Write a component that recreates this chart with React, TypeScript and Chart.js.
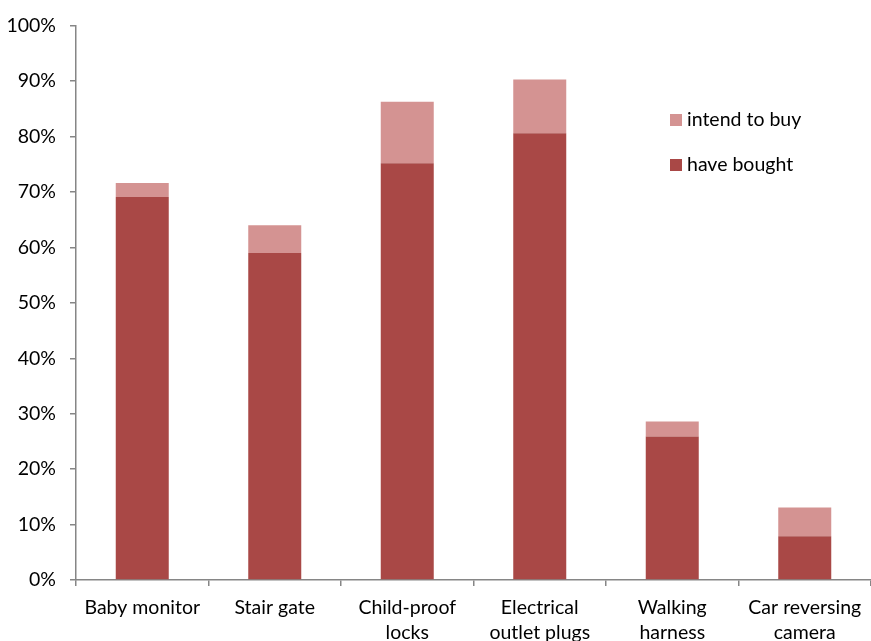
import React, { useEffect, useRef } from "react";
import { Chart, registerables } from "chart.js";

Chart.register(...registerables);

const categories: (string | string[])[] = [
  "Baby monitor",
  "Stair gate",
  ["Child-proof", "locks"],
  ["Electrical", "outlet plugs"],
  ["Walking", "harness"],
  ["Car reversing", "camera"],
];
const haveBought = [69.1, 59.0, 75.2, 80.6, 25.9, 7.9];
const intendToBuy = [2.5, 5.0, 11.1, 9.7, 2.7, 5.2];
const yTicks = [0, 10, 20, 30, 40, 50, 60, 70, 80, 90, 100];

const DARK = "#A94846";
const LIGHT = "#D49392";
const FONT = "Lato, 'Open Sans', sans-serif";
const FSIZE = 19.5;

export default function App() {
  const ref = useRef<HTMLCanvasElement | null>(null);
  useEffect(() => {
    document.body.style.margin = "0";
    const legendPlugin = {
      id: "customLegend",
      afterDraw(chart: any) {
        const ctx = chart.ctx;
        ctx.save();
        const items = [
          { label: "intend to buy", color: LIGHT, y: 120 },
          { label: "have bought", color: DARK, y: 165 },
        ];
        ctx.font = `${FSIZE}px ${FONT}`;
        ctx.textBaseline = "middle";
        ctx.textAlign = "left";
        for (const it of items) {
          ctx.fillStyle = it.color;
          ctx.fillRect(670, it.y - 6, 12, 12);
          ctx.fillStyle = "#000";
          ctx.fillText(it.label, 687, it.y);
        }
        ctx.restore();
      },
    };
    const chart = new Chart(ref.current!, {
      type: "bar",
      data: {
        labels: categories,
        datasets: [
          {
            label: "have bought",
            data: haveBought,
            backgroundColor: DARK,
            barPercentage: 0.4,
            categoryPercentage: 1,
          },
          {
            label: "intend to buy",
            data: intendToBuy,
            backgroundColor: LIGHT,
            barPercentage: 0.4,
            categoryPercentage: 1,
          },
        ],
      },
      options: {
        animation: false,
        responsive: false,
        layout: { padding: { top: 23, right: 0, left: 0, bottom: 0 } },
        plugins: { legend: { display: false }, tooltip: { enabled: false } },
        scales: {
          x: {
            stacked: true,
            grid: {
              drawOnChartArea: false,
              offset: true,
              tickLength: 6,
              color: "#868686",
              lineWidth: 1.5,
            },
            border: { color: "#868686", width: 1.5 },
            ticks: {
              color: "#000",
              font: { family: FONT, size: FSIZE, lineHeight: 1.28 },
              padding: 9,
              maxRotation: 0,
            },
            afterFit(scale: any) {
              scale.height = 61;
            },
          },
          y: {
            stacked: true,
            min: 0,
            max: 100,
            afterBuildTicks(scale: any) {
              scale.ticks = yTicks.map((v) => ({ value: v }));
            },
            grid: {
              drawOnChartArea: false,
              tickLength: 6,
              color: "#868686",
              lineWidth: 1.5,
            },
            border: { color: "#868686", width: 1.5 },
            ticks: {
              color: "#000",
              font: { family: FONT, size: FSIZE },
              padding: 14,
              callback: (v: any) => `${v}%`,
            },
            afterFit(scale: any) {
              scale.width = 76;
            },
          },
        },
      },
      plugins: [legendPlugin],
    });
    return () => chart.destroy();
  }, []);
  return <canvas ref={ref} width={871} height={641} style={{ display: "block" }} />;
}
